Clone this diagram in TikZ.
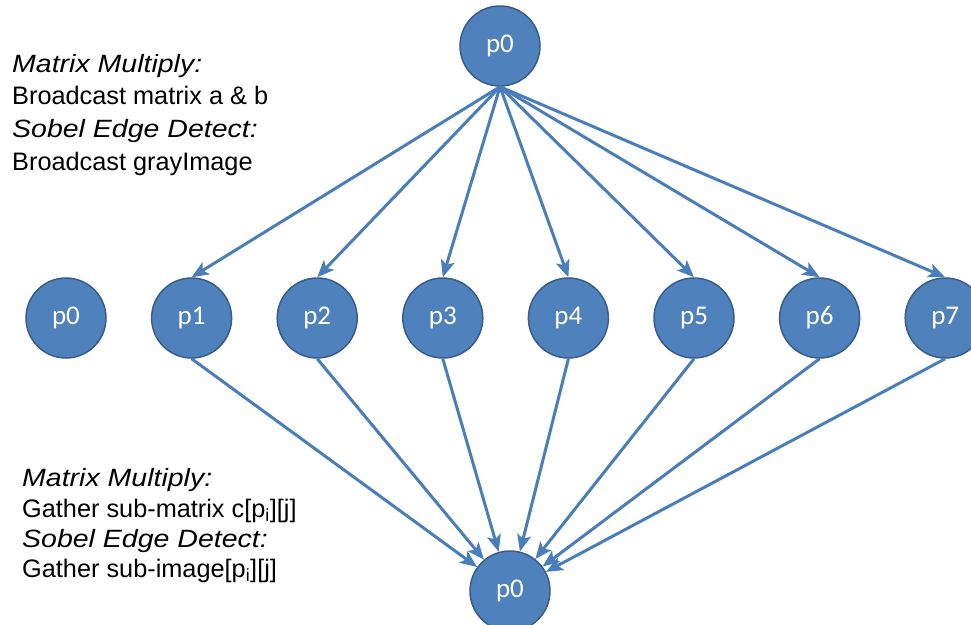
\documentclass[tikz,border=0pt]{standalone}
\usepackage{fontspec}
\setmainfont{Liberation Sans}
\newfontfamily\nodefont{Carlito}
\usetikzlibrary{arrows.meta}
\definecolor{nodeblue}{HTML}{4F81BD}
\definecolor{nodeedge}{HTML}{385D8A}
\definecolor{arrowblue}{HTML}{4A7EBB}
\newcommand{\wideit}[1]{\scalebox{1.14}[1]{\itshape #1}}
\begin{document}
\begin{tikzpicture}[x=1pt,y=-1pt,
  proc/.style={circle,fill=nodeblue,draw=nodeedge,line width=1.5pt,minimum size=80pt,inner sep=0pt,text=white,font=\nodefont\fontsize{27}{27}\selectfont},
  conn/.style={arrowblue,line width=3pt,-{Stealth[length=17pt,width=14pt,inset=4pt]}},
  lab/.style={anchor=base west,inner sep=0pt,font=\fontsize{25.3}{25}\selectfont},
  labit/.style={anchor=base west,inner sep=0pt,font=\fontsize{25}{25}\selectfont}
]
\useasboundingbox (0,0) rectangle (971,624);
\node[proc] (top) at (500,46) {p0};
\foreach \i in {0,...,7}{
  \node[proc] (m\i) at ({66+125.6*\i},318) {p\i};
}
\node[proc] (bot) at (510,591) {p0};
\foreach \i in {1,...,7}{
  \draw[conn] (top.south) -- (m\i.north);
  \draw[conn] (m\i.south) -- (bot);
}
\node[labit] (t1) at (12,72) {\wideit{Matrix Multiply:}};
\node[lab] (t2) at (12,104) {Broadcast matrix a \& b};
\node[labit] (t3) at (12,137) {\wideit{Sobel Edge Detect:}};
\node[lab] (t4) at (12,170) {Broadcast grayImage};
\node[labit] (b1) at (22,486) {\wideit{Matrix Multiply:}};
\node[lab] (b2) at (22,517) {Gather sub-matrix c[p\textsubscript{i}][j]};
\node[labit] (b3) at (22,547) {\wideit{Sobel Edge Detect:}};
\node[lab] (b4) at (22,577) {Gather sub-image[p\textsubscript{i}][j]};
\end{tikzpicture}
\end{document}
